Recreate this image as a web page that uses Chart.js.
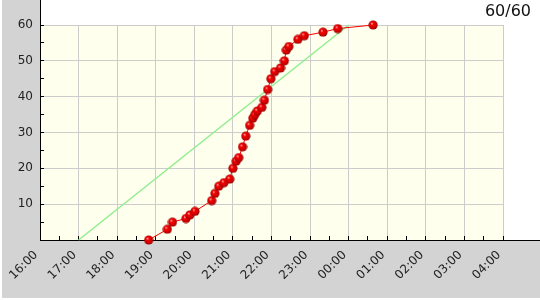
<!DOCTYPE html>
<html><head><meta charset="utf-8">
<script src="https://cdn.jsdelivr.net/npm/chart.js@4.4.1/dist/chart.umd.min.js"></script>
<style>html,body{margin:0;padding:0;background:#fff}#wrap{width:540px;height:300px;position:relative}</style>
</head><body><div id="wrap"><canvas id="c" width="540" height="300"></canvas></div>
<script>
const titleText = '60/60';
const arrivalTimes = ['18:49','19:18','19:26','19:47','19:53','20:01','20:27','20:32','20:38','20:46','20:55','21:00','21:05','21:09','21:15','21:20','21:26','21:31','21:34','21:38','21:45','21:49','21:54','21:59','22:05','22:14','22:20','22:23','22:27','22:41','22:51','23:20','23:43','00:38'];
const arrivalCounts = [0,3,5,6,7,8,11,13,15,16,17,20,22,23,26,29,32,34,35,36,37,39,42,45,47,48,50,53,54,56,57,58,59,60];
const targetTimes = ['17:00','00:00'];
const targetCounts = [0,60];
const xTickLabels = ['16:00','17:00','18:00','19:00','20:00','21:00','22:00','23:00','00:00','01:00','02:00','03:00','04:00'];
const yTickLabels = ['10','20','30','40','50','60'];

function toHours(s){ const p = s.split(':').map(Number); let v = p[0] + p[1]/60; if (v < 12) v += 24; return v; }

const X_MIN = toHours(xTickLabels[0]);
const X_MAX = toHours(xTickLabels[xTickLabels.length-1]);

// shaded sphere marker
const sphere = document.createElement('canvas');
sphere.width = 10; sphere.height = 10;
(function(){
  const g = sphere.getContext('2d');
  const grad = g.createRadialGradient(3.6,3.4,0.3,5,5,5);
  grad.addColorStop(0,'#ffa0a0');
  grad.addColorStop(0.28,'#f40000');
  grad.addColorStop(0.72,'#cc0000');
  grad.addColorStop(1,'#700000');
  g.fillStyle = grad;
  g.beginPath(); g.arc(5,5,4.6,0,Math.PI*2); g.fill();
})();

Chart.defaults.font.family = '"DejaVu Sans", sans-serif';
Chart.defaults.font.size = 12;

const bgPlugin = {
  id: 'bg',
  beforeDraw(chart){
    const {ctx, chartArea:a} = chart;
    ctx.save();
    ctx.fillStyle = '#ffffff'; ctx.fillRect(0,0,540,300);
    ctx.fillStyle = '#d3d3d3'; ctx.fillRect(2,0,538,298);
    ctx.fillStyle = '#ffffff'; ctx.fillRect(a.left,0,540-a.left,a.bottom);
    ctx.fillStyle = '#ffffee'; ctx.fillRect(a.left,a.top,a.right-a.left,a.bottom-a.top);
    ctx.restore();
  },
  afterDraw(chart){
    const {ctx, chartArea:a} = chart;
    ctx.save();
    ctx.strokeStyle = '#000'; ctx.lineWidth = 1;
    ctx.beginPath();
    ctx.moveTo(a.left+0.5, 0); ctx.lineTo(a.left+0.5, a.top+1);
    ctx.moveTo(a.right-1, a.bottom+0.5); ctx.lineTo(540, a.bottom+0.5);
    ctx.stroke();
    ctx.fillStyle = '#111';
    ctx.font = '16px "DejaVu Sans"';
    ctx.textAlign = 'right'; ctx.textBaseline = 'middle';
    ctx.fillText(titleText, 531, 12);
    ctx.restore();
  }
};

new Chart(document.getElementById('c'), {
  type: 'line',
  data: {
    datasets: [
      {
        data: arrivalTimes.map((t,i)=>({x: toHours(t), y: arrivalCounts[i]})),
        borderColor: '#ff0000', borderWidth: 1, tension: 0,
        pointStyle: sphere, pointRadius: 5, pointHoverRadius: 5, clip: false
      },
      {
        data: targetTimes.map((t,i)=>({x: toHours(t), y: targetCounts[i]})),
        borderColor: '#90ee90', borderWidth: 1.5, tension: 0, pointRadius: 0, clip: false
      }
    ]
  },
  options: {
    responsive: false, animation: false, devicePixelRatio: 1,
    layout: { padding: { left: 0, top: 25, right: 37, bottom: 0 } },
    plugins: { legend: { display: false }, tooltip: { enabled: false } },
    scales: {
      x: {
        type: 'linear', min: X_MIN, max: X_MAX,
        afterFit(s){ s.height = 60; },
        border: { color: '#000', width: 1 },
        grid: {
          color: c => (c.tick && Number.isInteger(c.tick.value)) ? '#cccccc' : 'rgba(0,0,0,0)',
          tickColor: '#000', tickLength: -4, lineWidth: 1
        },
        ticks: {
          stepSize: 0.5, autoSkip: false, minRotation: 45, maxRotation: 45,
          padding: 12, labelOffset: -4, color: '#222',
          callback: v => Number.isInteger(v) ? xTickLabels[v - X_MIN] : ''
        }
      },
      y: {
        type: 'linear', min: 0, max: 60,
        afterFit(s){ s.width = 40; },
        border: { color: '#000', width: 1 },
        grid: {
          color: c => (c.tick && c.tick.value % 10 === 0) ? '#cccccc' : 'rgba(0,0,0,0)',
          tickColor: '#000', tickLength: -4, lineWidth: 1
        },
        ticks: {
          stepSize: 5, padding: 11, color: '#222',
          callback: v => yTickLabels.includes(String(v)) ? String(v) : ''
        }
      }
    }
  },
  plugins: [bgPlugin]
});
</script></body></html>
